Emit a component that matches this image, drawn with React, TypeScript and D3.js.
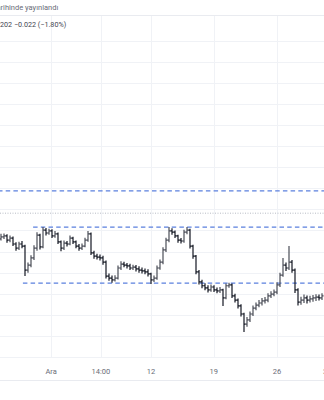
import React from 'react';
import * as d3 from 'd3';

const W = 324;
const H = 400;

// Bar data (price)
const closes = [
  1.2185, 1.2187, 1.2177, 1.2182, 1.2168, 1.2158, 1.2168, 1.2163, 1.2106, 1.2118,
  1.2135, 1.2158, 1.2189, 1.2161, 1.2201, 1.2194, 1.2199, 1.2187, 1.2192, 1.2173,
  1.2158, 1.2170, 1.2168, 1.2182, 1.2173, 1.2163, 1.2158, 1.2163, 1.2177, 1.2192,
  1.2147, 1.2139, 1.2137, 1.2135, 1.2125, 1.2092, 1.2087, 1.2083, 1.2087, 1.2111,
  1.2120, 1.2118, 1.2116, 1.2111, 1.2113, 1.2109, 1.2106, 1.2104, 1.2102, 1.2097,
  1.2083, 1.2087, 1.2111, 1.2125, 1.2154, 1.2177, 1.2199, 1.2196, 1.2187, 1.2177,
  1.2175, 1.2196, 1.2201, 1.2163, 1.2139, 1.2102, 1.2078, 1.2069, 1.2064, 1.2059,
  1.2066, 1.2059, 1.2057, 1.2059, 1.2040, 1.2069, 1.2071, 1.2045, 1.2035, 1.2021,
  1.2002, 1.1978, 1.1988, 1.2002, 1.2016, 1.2023, 1.2028, 1.2033, 1.2035, 1.2045,
  1.2049, 1.2054, 1.2071, 1.2094, 1.2118, 1.2111, 1.2125, 1.2106, 1.2059, 1.2030,
  1.2035, 1.2040, 1.2035, 1.2038, 1.2040, 1.2042, 1.2040, 1.2045,
];
const highs = [
  1.2192, 1.2193, 1.2191, 1.2188, 1.2186, 1.2172, 1.2173, 1.2175, 1.2166, 1.2124,
  1.2141, 1.2165, 1.2196, 1.2192, 1.2208, 1.2206, 1.2204, 1.2203, 1.2199, 1.2195,
  1.2176, 1.2176, 1.2175, 1.2188, 1.2185, 1.2176, 1.2168, 1.2169, 1.2183, 1.2199,
  1.2195, 1.2152, 1.2145, 1.2143, 1.2140, 1.2129, 1.2098, 1.2093, 1.2094, 1.2117,
  1.2127, 1.2126, 1.2123, 1.2121, 1.2119, 1.2118, 1.2115, 1.2112, 1.2110, 1.2108,
  1.2100, 1.2093, 1.2117, 1.2131, 1.2160, 1.2183, 1.2208, 1.2205, 1.2200, 1.2190,
  1.2182, 1.2202, 1.2208, 1.2204, 1.2166, 1.2142, 1.2106, 1.2083, 1.2075, 1.2070,
  1.2072, 1.2070, 1.2065, 1.2066, 1.2062, 1.2074, 1.2076, 1.2074, 1.2050, 1.2039,
  1.2025, 1.2005, 1.1995, 1.2008, 1.2022, 1.2029, 1.2035, 1.2040, 1.2042, 1.2051,
  1.2056, 1.2060, 1.2077, 1.2100, 1.2135, 1.2124, 1.2163, 1.2130, 1.2110, 1.2063,
  1.2043, 1.2048, 1.2046, 1.2045, 1.2047, 1.2049, 1.2048, 1.2051,
];
const lows = [
  1.2176, 1.2180, 1.2171, 1.2172, 1.2163, 1.2152, 1.2154, 1.2158, 1.2092, 1.2100,
  1.2113, 1.2130, 1.2152, 1.2155, 1.2158, 1.2188, 1.2190, 1.2182, 1.2183, 1.2168,
  1.2151, 1.2154, 1.2162, 1.2165, 1.2168, 1.2158, 1.2152, 1.2154, 1.2160, 1.2173,
  1.2142, 1.2133, 1.2131, 1.2129, 1.2119, 1.2086, 1.2081, 1.2076, 1.2079, 1.2084,
  1.2106, 1.2113, 1.2110, 1.2106, 1.2106, 1.2103, 1.2100, 1.2098, 1.2096, 1.2091,
  1.2073, 1.2078, 1.2083, 1.2107, 1.2120, 1.2149, 1.2172, 1.2190, 1.2182, 1.2171,
  1.2169, 1.2171, 1.2191, 1.2157, 1.2133, 1.2096, 1.2072, 1.2063, 1.2058, 1.2053,
  1.2055, 1.2054, 1.2051, 1.2052, 1.2021, 1.2037, 1.2064, 1.2040, 1.2029, 1.2015,
  1.1996, 1.1959, 1.1972, 1.1983, 1.1997, 1.2011, 1.2018, 1.2022, 1.2027, 1.2030,
  1.2040, 1.2044, 1.2049, 1.2066, 1.2090, 1.2104, 1.2106, 1.2100, 1.2052, 1.2022,
  1.2024, 1.2028, 1.2027, 1.2029, 1.2031, 1.2033, 1.2034, 1.2035,
];
const firstOpen = 1.2180;

// Horizontal levels drawn on the chart
const levelPrices = [1.2294, 1.2208, 1.2075];
const levelStartBar = [-1, 10.7, 7.3];
const prevClosePrice = 1.2241;

// Price grid
const gridPrices = [
  1.19, 1.195, 1.2, 1.205, 1.21, 1.215, 1.22, 1.225, 1.23, 1.235, 1.24, 1.245, 1.25, 1.255,
  1.26, 1.265,
];

// Time axis
const timeLabels = ['Ara', '14:00', '12', '19', '26', '3'];
const timeLabelBars = [16.7, 33.3, 50, 70.9, 92, 108];

// Header
const headerTitle = 'tarihinde yayınlandı';
const headerValue = '202 −0.022 (−1.80%)';

const FONT = 'Roboto, "Noto Sans", sans-serif';

export default function App() {
  const x = d3.scaleLinear().domain([0, closes.length - 1]).range([1, 322]);
  const y = d3.scaleLinear().domain([1.19, 1.265]).range([357, 40.7]);

  const gridColor = '#f0f2f6';

  return (
    <svg
      width={W}
      height={H}
      viewBox={`0 0 ${W} ${H}`}
      style={{ position: 'absolute', left: 0, top: 0, background: '#ffffff' }}
    >
      <rect x={0} y={0} width={W} height={H} fill="#ffffff" />
      {/* header separator */}
      <line x1={0} x2={W} y1={15.5} y2={15.5} stroke="#e9ebf0" strokeWidth={1} />
      {/* horizontal grid */}
      {gridPrices.map((p, i) => (
        <line
          key={'hg' + i}
          x1={0}
          x2={W}
          y1={Math.round(y(p)) + 0.5}
          y2={Math.round(y(p)) + 0.5}
          stroke={gridColor}
          strokeWidth={1}
        />
      ))}
      {/* vertical grid */}
      {timeLabelBars.map((b, i) => (
        <line
          key={'vg' + i}
          x1={Math.round(x(b)) + 0.5}
          x2={Math.round(x(b)) + 0.5}
          y1={16}
          y2={357}
          stroke={gridColor}
          strokeWidth={1}
        />
      ))}
      {/* time axis border */}
      <line x1={0} x2={W} y1={380.5} y2={380.5} stroke="#e9ebf0" strokeWidth={1} />

      {/* previous close dotted line */}
      <line
        x1={0}
        x2={W}
        y1={y(prevClosePrice)}
        y2={y(prevClosePrice)}
        stroke="#b8bbc4"
        strokeWidth={1}
        strokeDasharray="1 1.5"
      />

      {/* horizontal levels */}
      {levelPrices.map((p, i) => (
        <line
          key={'lv' + i}
          x1={x(levelStartBar[i])}
          x2={W}
          y1={y(p)}
          y2={y(p)}
          stroke="#5b80de"
          strokeWidth={1.3}
          strokeDasharray="4.5 3.2"
        />
      ))}

      {/* bars */}
      {closes.map((c, i) => {
        const o = i === 0 ? firstOpen : closes[i - 1];
        const xi = x(i);
        const up = c >= o;
        const col = up ? '#4a4d57' : '#131722';
        return (
          <g key={'b' + i} stroke={col} strokeWidth={1.2}>
            <line x1={xi} x2={xi} y1={y(highs[i])} y2={y(lows[i])} />
            <line x1={xi - 1.6} x2={xi} y1={y(o)} y2={y(o)} />
            <line x1={xi} x2={xi + 1.6} y1={y(c)} y2={y(c)} />
          </g>
        );
      })}

      {/* header texts */}
      <text x={-6} y={10} fontFamily={FONT} fontSize={7.5} fill="#6a6d78">
        {headerTitle}
      </text>
      <text x={0} y={27} fontFamily={FONT} fontSize={7.2} fill="#434651">
        {headerValue}
      </text>

      {/* time labels */}
      {timeLabels.map((t, i) => (
        <text
          key={'tl' + i}
          x={x(timeLabelBars[i])}
          y={374}
          textAnchor="middle"
          fontFamily={FONT}
          fontSize={7.5}
          fill="#6a6d78"
        >
          {t}
        </text>
      ))}
    </svg>
  );
}
